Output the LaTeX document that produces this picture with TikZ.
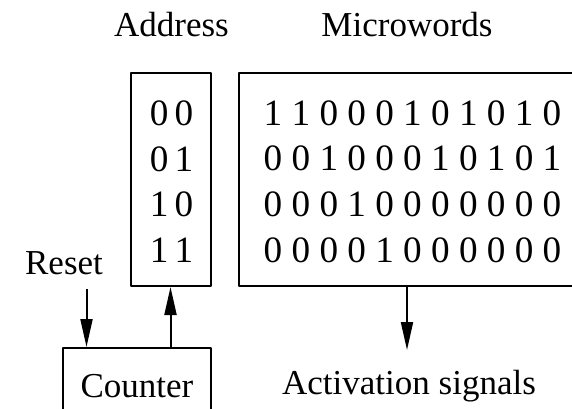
\documentclass[tikz,border=0pt]{standalone}
\usepackage{fontspec}
\setmainfont{Liberation Serif}
\usetikzlibrary{arrows.meta}
\tikzset{
  every picture/.style={line join=round, >={Triangle[length=14pt,width=6pt]}},
  box/.style={draw, line width=1pt, inner sep=0pt},
  lbl/.style={font=\fontsize{17.5}{21}\selectfont, inner sep=0pt},
  bits/.style={font=\fontsize{18.6}{22.8}\selectfont, align=center, inner sep=0pt},
  wire/.style={line width=1pt, ->},
}

\begin{document}
\begin{tikzpicture}[x=0.5pt, y=-0.5pt]
\useasboundingbox (0,0) rectangle (572,408);
\clip (0,0) rectangle (572,408);
\node[lbl] (addrtitle) at (171.5,25) {Address};
\node[lbl] (mwtitle) at (407,25) {Microwords};
\node[box, minimum width=40pt, minimum height=106.5pt] (addr) at (170.5,179.5) {};
\node[bits] (addrbits) at (171.5,181.5) {0\,0\\0\,1\\1\,0\\1\,1};
\node[box, minimum width=170.5pt, minimum height=106.5pt] (mw) at (409.5,179.5) {};
\node[bits] (mwbits) at (412.5,181.5) {1 1 0 0 0 1 0 1 0 1 0\\0 0 1 0 0 0 1 0 1 0 1\\0 0 0 1 0 0 0 0 0 0 0\\0 0 0 0 1 0 0 0 0 0 0};
\node[box, minimum width=73.75pt, minimum height=50pt] (cnt) at (136.75,398) {};
\node[lbl] (cnttext) at (137,386) {Counter};
\node[lbl] (reset) at (64,263) {Reset};
\node[lbl] (act) at (409,386) {Activation signals};
\coordinate (rst) at (86.5,289);
\coordinate (actin) at (407,350);
\draw[wire] (rst) -- (rst |- cnt.north);
\draw[wire] (cnt.north -| addr) -- (addr.south);
\draw[wire] (mw.south -| actin) -- (actin);
\end{tikzpicture}
\end{document}
